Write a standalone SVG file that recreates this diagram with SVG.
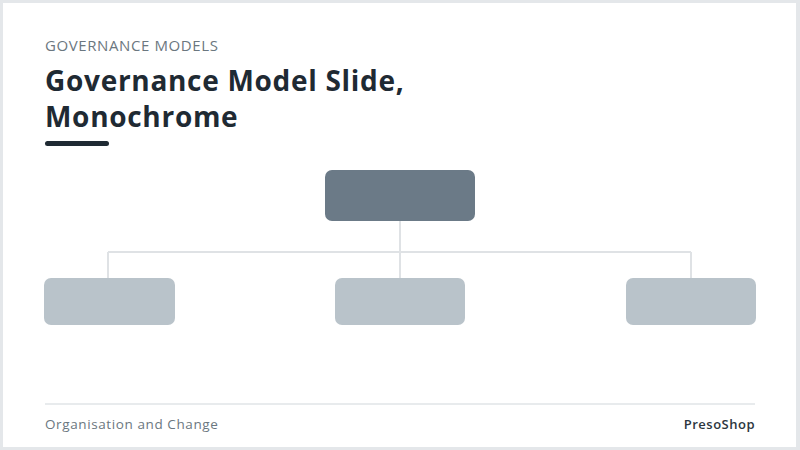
<svg xmlns="http://www.w3.org/2000/svg" width="800" height="450" viewBox="0 0 800 450">
<style>
.eyebrow{font-family:"Open Sans","Liberation Sans",sans-serif;font-size:15px;letter-spacing:0.6px;fill:#6b7780}
.title{font-family:"Open Sans","Liberation Sans",sans-serif;font-size:28px;font-weight:700;letter-spacing:0.7px;fill:#1f2a33}
.foot{font-family:"Open Sans","Liberation Sans",sans-serif;font-size:13.5px;letter-spacing:0.6px;fill:#6b7780}
.brand{font-family:"Open Sans","Liberation Sans",sans-serif;font-size:13px;font-weight:600;letter-spacing:0.5px;fill:#2c3640}
.top{fill:#6b7a87}
.child{fill:#b9c3ca}
.conn{stroke:#dfe2e5;stroke-width:2;fill:none}
</style>
<rect x="0" y="0" width="800" height="450" fill="#e4e7ea"/>
<rect x="3" y="3" width="793" height="444" fill="#ffffff"/>
<text class="eyebrow" x="45" y="51">GOVERNANCE MODELS</text>
<text class="title" x="45" y="91">Governance Model Slide,</text>
<text class="title" x="45" y="127">Monochrome</text>
<rect x="45" y="141" width="64" height="5" rx="2.5" fill="#1f2a33"/>
<g id="connectors">
<path class="conn" d="M400 221 V252 M108 252 H691 M108 252 V278 M400 252 V278 M691 252 V278"/>
</g>
<g id="node-top"><rect class="top" x="325" y="170" width="150" height="51" rx="7"/></g>
<g id="node-left"><rect class="child" x="44" y="278" width="131" height="47" rx="7"/></g>
<g id="node-middle"><rect class="child" x="335" y="278" width="130" height="47" rx="7"/></g>
<g id="node-right"><rect class="child" x="626" y="278" width="130" height="47" rx="7"/></g>
<line x1="45" y1="404" x2="755" y2="404" stroke="#e1e4e7" stroke-width="1.5"/>
<text class="foot" x="45" y="429">Organisation and Change</text>
<text class="brand" x="755" y="429" text-anchor="end">PresoShop</text>
</svg>
